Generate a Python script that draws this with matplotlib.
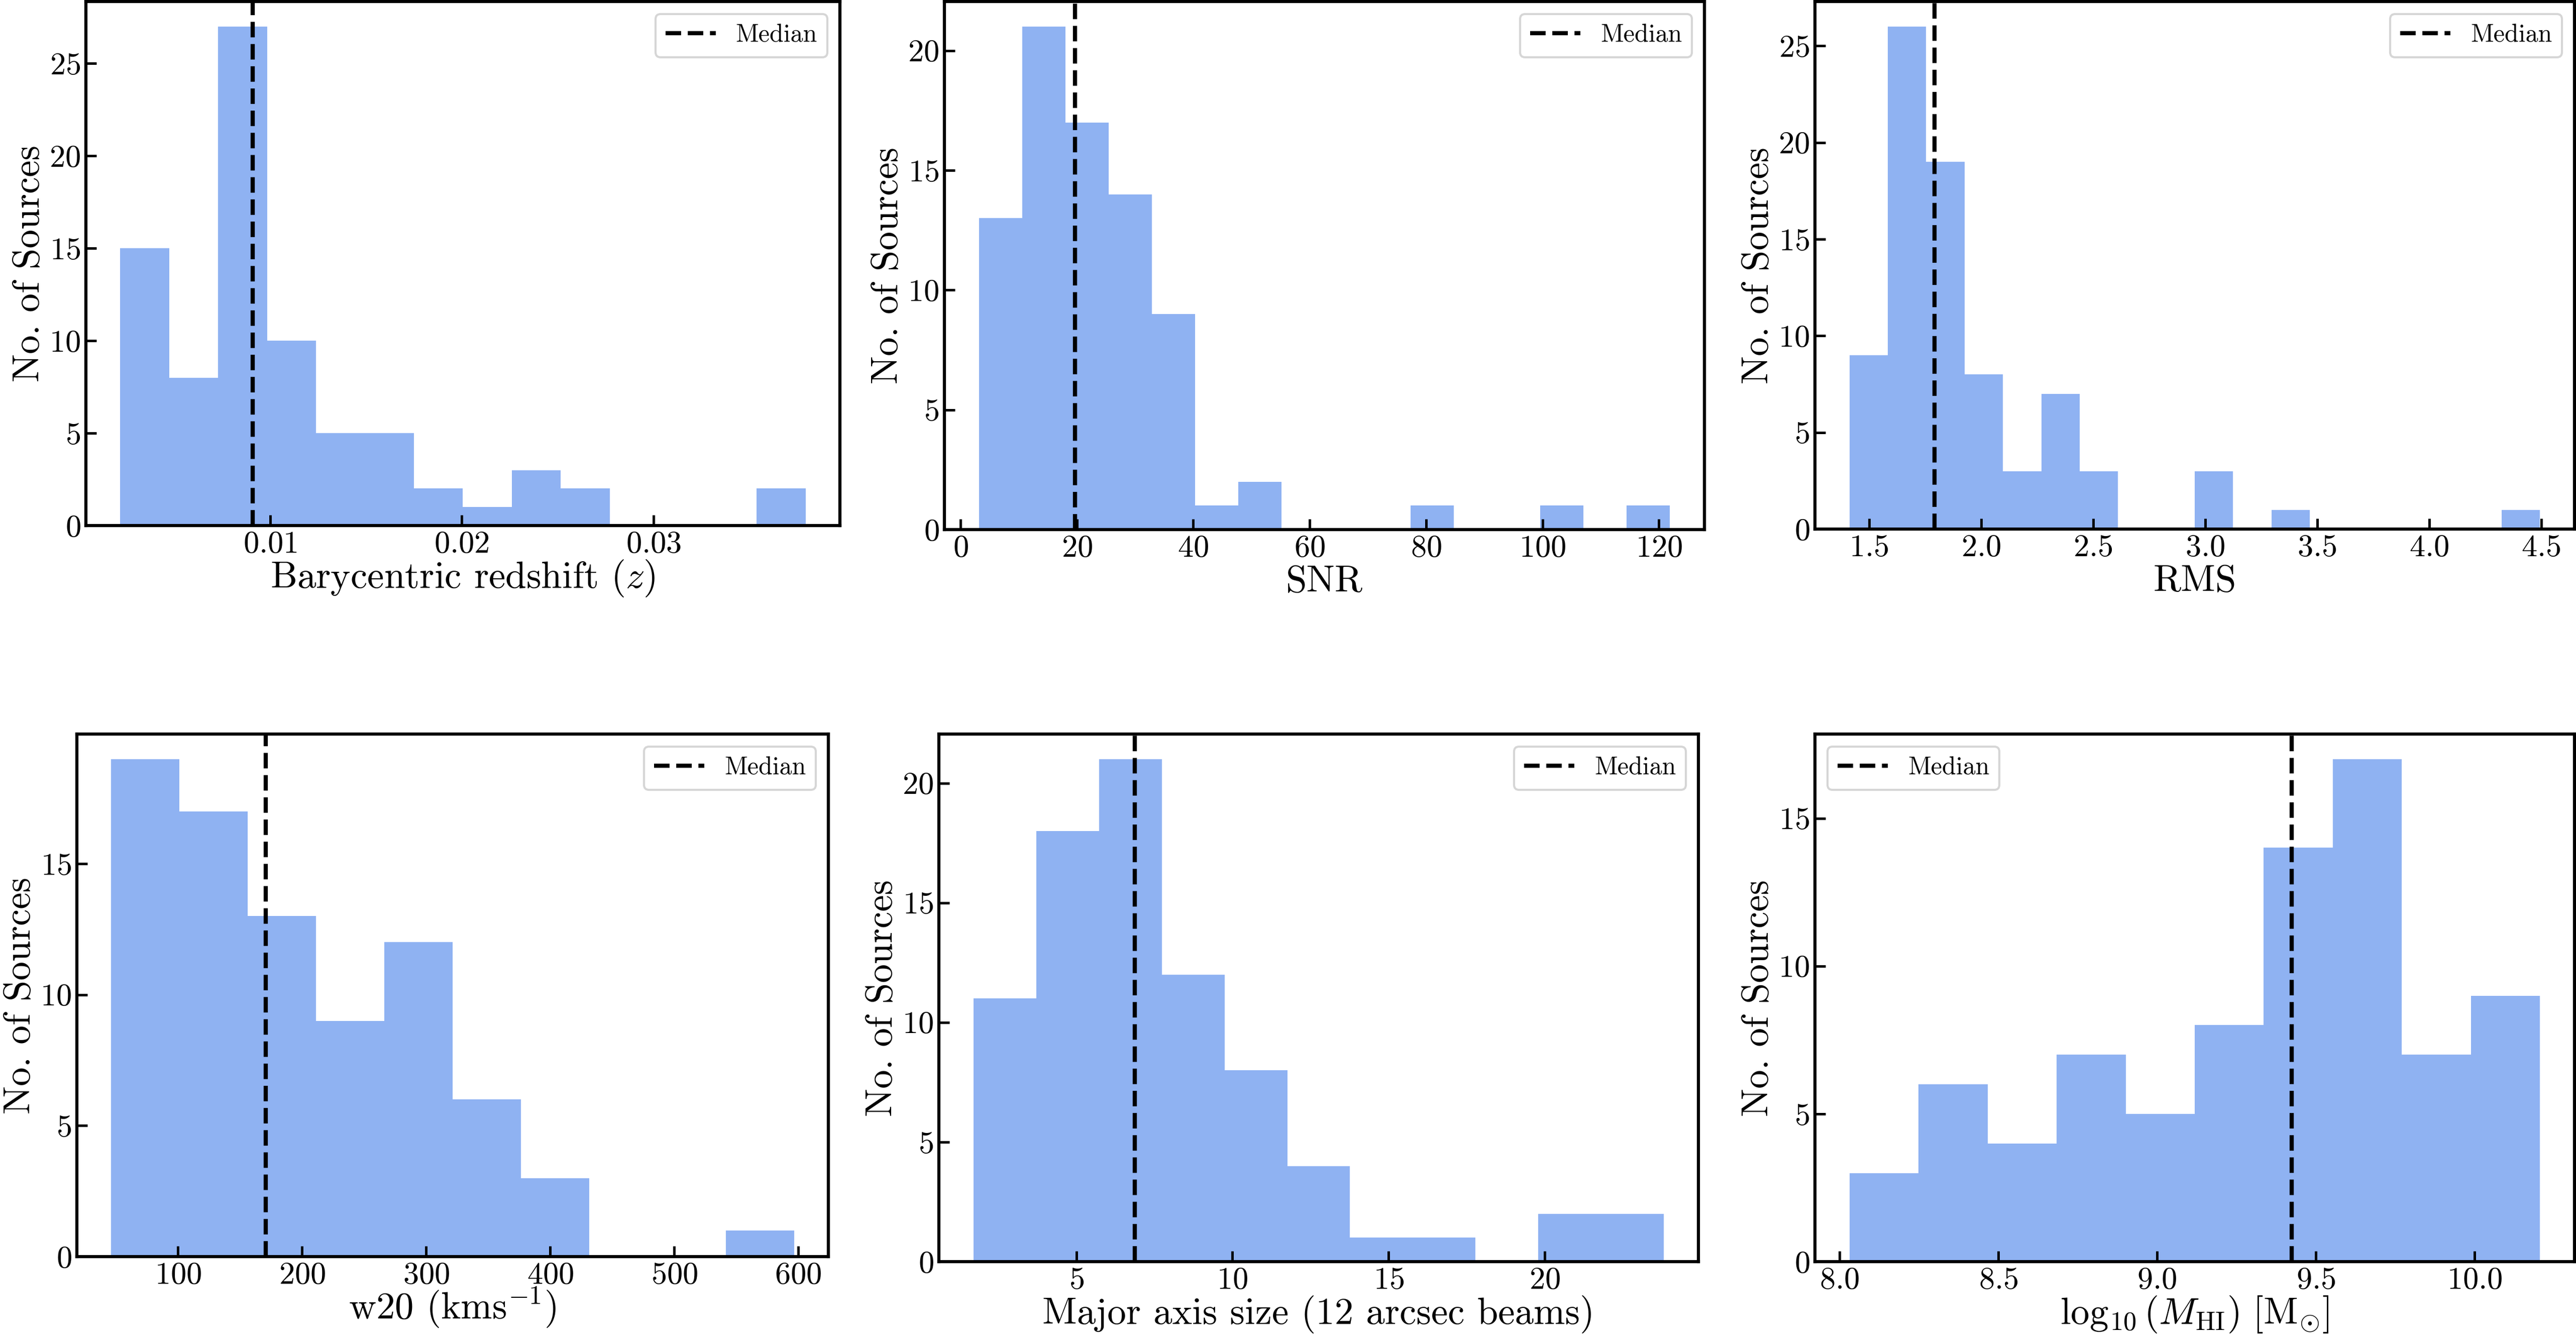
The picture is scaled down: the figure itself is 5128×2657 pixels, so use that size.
import matplotlib
matplotlib.use("Agg")
import matplotlib.pyplot as plt
from matplotlib.ticker import MultipleLocator
import numpy as np

plt.rcParams['font.family'] = 'serif'
plt.rcParams['font.serif'] = ['cmr10']
plt.rcParams['mathtext.fontset'] = 'cm'
plt.rcParams['axes.formatter.use_mathtext'] = True

# Histogram counts (80 sources), with bin ranges
z_counts = [15, 8, 27, 10, 5, 5, 2, 1, 3, 2, 0, 0, 0, 2]
z_range = (0.00216, 0.03795)
z_median = 0.00909

snr_counts = [13, 21, 17, 14, 9, 1, 2, 0, 0, 0, 1, 0, 0, 1, 0, 1]
snr_range = (3.18, 121.9)
snr_median = 19.65

rms_counts = [9, 26, 19, 8, 3, 7, 3, 0, 0, 3, 0, 1, 0, 0, 0, 0, 0, 1]
rms_range = (1.413, 4.495)
rms_median = 1.792

w20_counts = [19, 17, 13, 9, 12, 6, 3, 0, 0, 1]
w20_range = (46.0, 596.7)
w20_median = 170.7

size_counts = [11, 18, 21, 12, 8, 4, 1, 1, 0, 2, 2]
size_range = (1.70, 23.82)
size_median = 6.87

mhi_counts = [3, 6, 4, 7, 5, 8, 14, 17, 7, 9]
mhi_range = (8.031, 10.206)
mhi_median = 9.424

xlabels = [r'Barycentric redshift ($z$)', 'SNR', 'RMS',
           r'w20 (kms$^{-1}$)', 'Major axis size (12 arcsec beams)',
           r'$\log_{10}(M_{\mathrm{HI}})\ [\mathrm{M}_{\odot}]$']
xtick_steps = [0.01, 20, 0.5, 100, 5, 0.5]

panels = [(z_counts, z_range, z_median),
          (snr_counts, snr_range, snr_median),
          (rms_counts, rms_range, rms_median),
          (w20_counts, w20_range, w20_median),
          (size_counts, size_range, size_median),
          (mhi_counts, mhi_range, mhi_median)]

W, H = 5128, 2657
fig = plt.figure(figsize=(W / 300, H / 300), dpi=300)

# axes boxes in pixels: left, right, top, bottom
boxes = [(171, 1672, 3, 1046), (1880, 3393, 3, 1054), (3613, 5125, 3, 1053),
         (153, 1649, 1461, 2501), (1869, 3381, 1461, 2511), (3613, 5125, 1461, 2511)]

for i, ((counts, rng, med), box) in enumerate(zip(panels, boxes)):
    l, r, t, b = box
    ax = fig.add_axes([l / W, 1 - b / H, (r - l) / W, (b - t) / H])
    counts = np.array(counts)
    edges = np.linspace(rng[0], rng[1], len(counts) + 1)
    ax.hist(edges[:-1], bins=edges, weights=counts, color='cornflowerblue', alpha=0.72)
    ax.axvline(med, color='black', linestyle='--', linewidth=2, label='Median')
    ax.xaxis.set_major_locator(MultipleLocator(xtick_steps[i]))
    ax.yaxis.set_major_locator(MultipleLocator(5))
    ax.set_xlabel(xlabels[i], fontsize=18)
    ax.set_ylabel('No. of Sources', fontsize=18)
    # place label baselines where the original has them
    ax.xaxis.label.set_va('baseline')
    ax.xaxis.set_label_coords(0.5, -124 / (b - t))
    ax.yaxis.label.set_va('baseline')
    ax.yaxis.set_label_coords(-93 / (r - l), 0.5)
    ax.tick_params(direction='in', length=5, width=1.2, pad=2.5, labelsize=15,
                   top=False, right=False)
    for s in ax.spines.values():
        s.set_linewidth(1.5)
    ax.legend(loc='upper left' if i == 5 else 'upper right', fontsize=12)

plt.savefig('out.png', dpi=300)
